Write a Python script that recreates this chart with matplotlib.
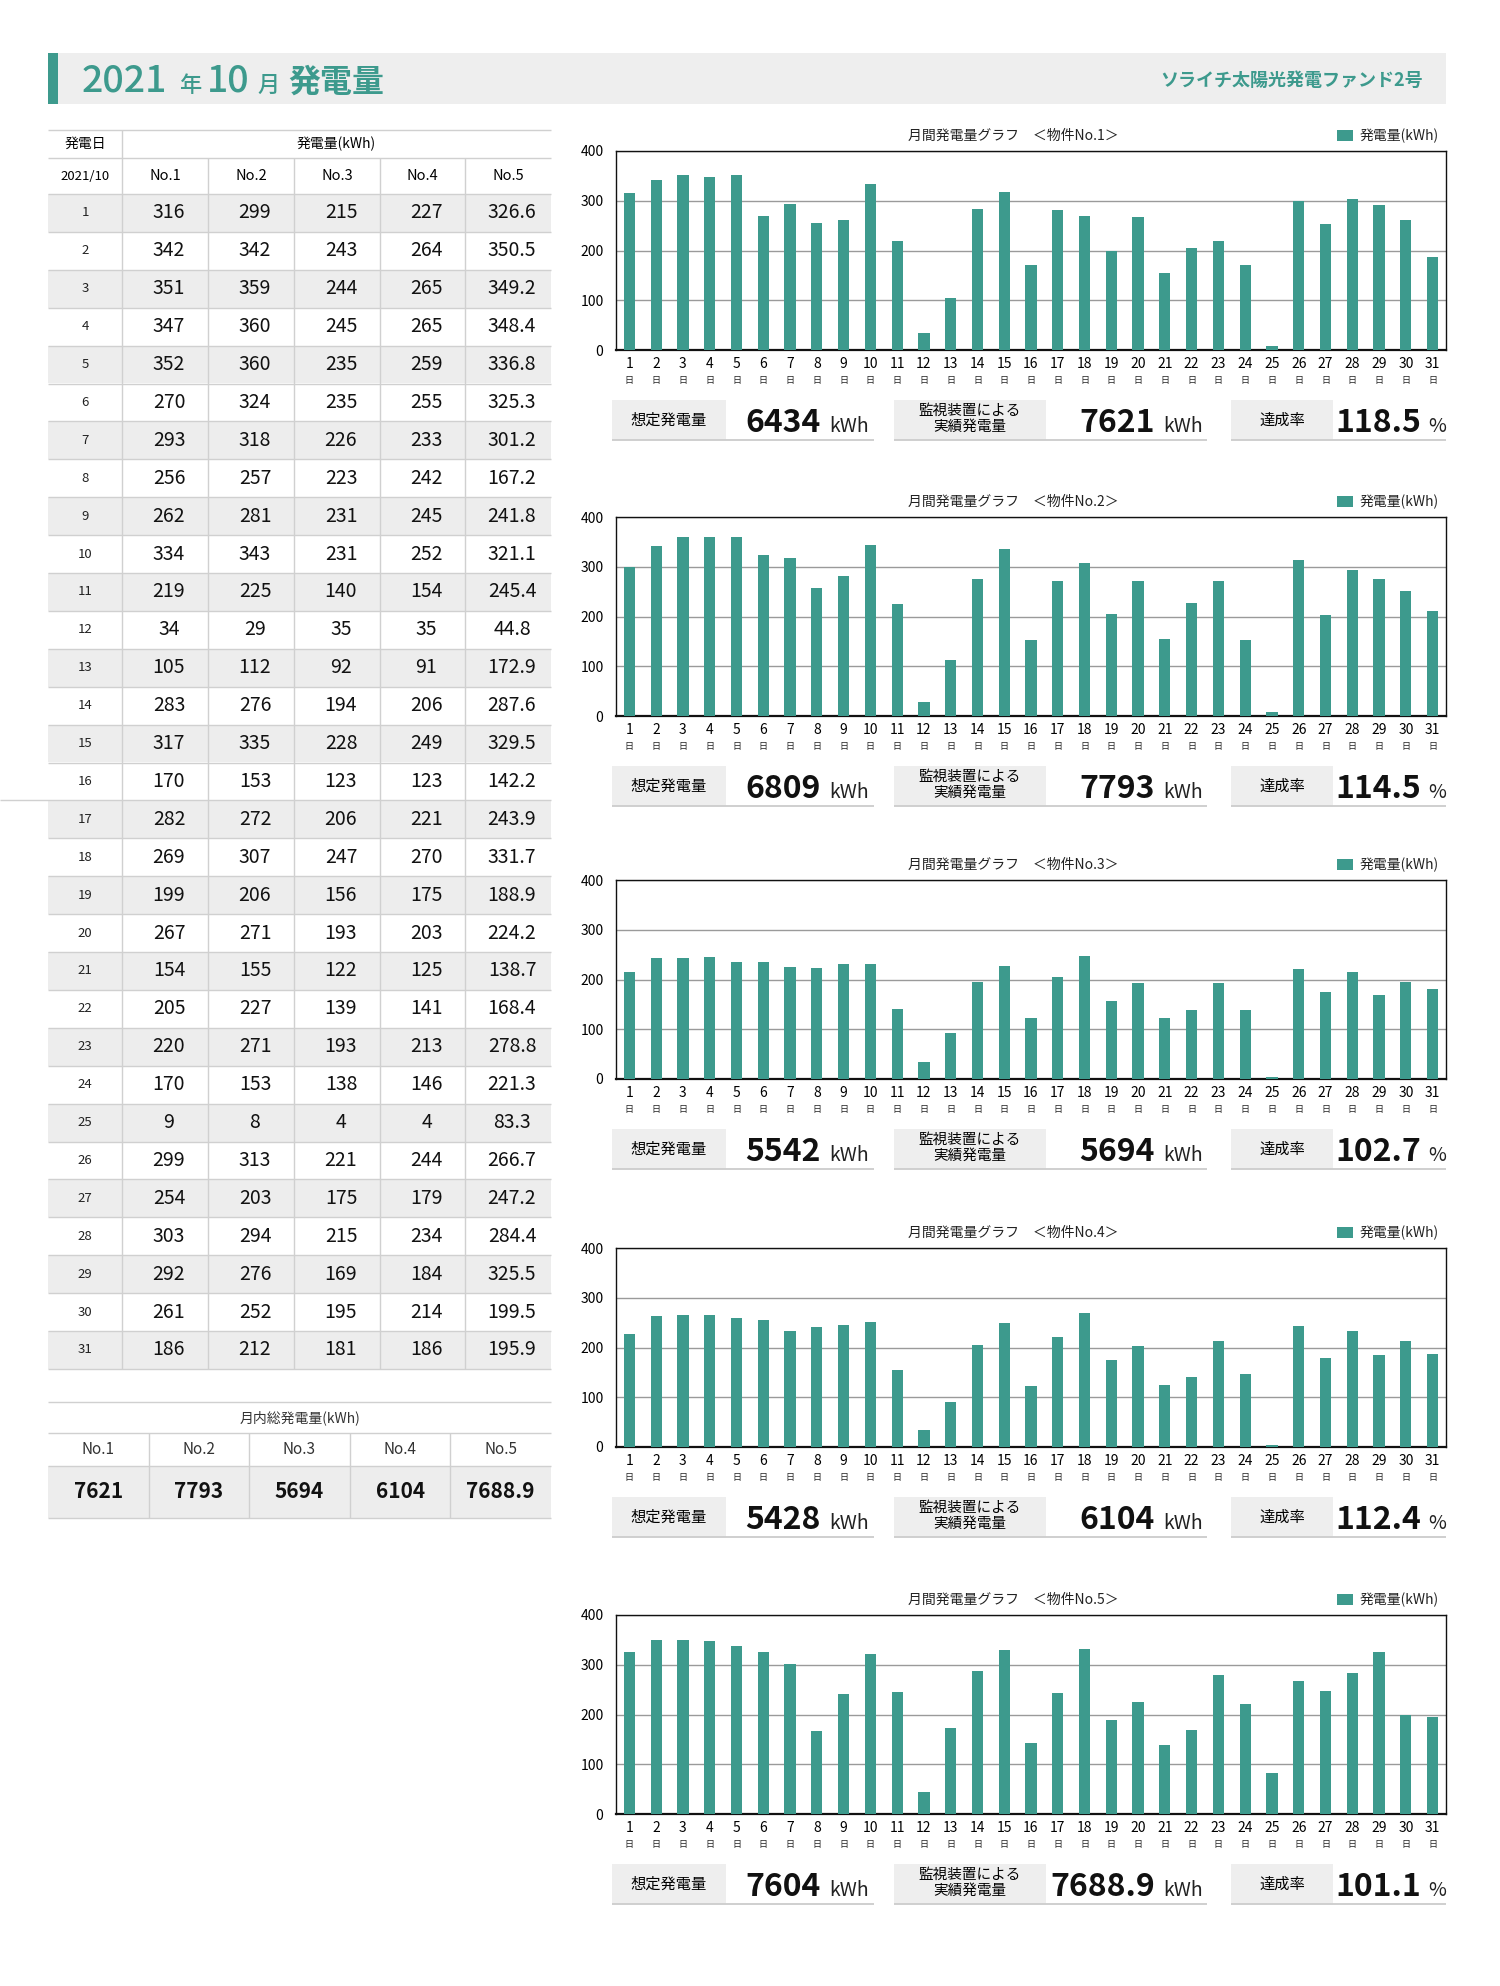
import numpy as np
import matplotlib
matplotlib.use('Agg')
import matplotlib.pyplot as plt
from matplotlib.patches import Rectangle
from matplotlib.transforms import blended_transform_factory

plt.rcParams['font.family'] = ['Noto Sans CJK JP', 'DejaVu Sans']

# colours
TEAL = '#3d9a8d'
STRIPE = '#ededed'
LINE = '#d0d0d0'

# data
days = list(range(1, 32))
no1 = [316, 342, 351, 347, 352, 270, 293, 256, 262, 334, 219, 34, 105, 283, 317, 170,
       282, 269, 199, 267, 154, 205, 220, 170, 9, 299, 254, 303, 292, 261, 186]
no2 = [299, 342, 359, 360, 360, 324, 318, 257, 281, 343, 225, 29, 112, 276, 335, 153,
       272, 307, 206, 271, 155, 227, 271, 153, 8, 313, 203, 294, 276, 252, 212]
no3 = [215, 243, 244, 245, 235, 235, 226, 223, 231, 231, 140, 35, 92, 194, 228, 123,
       206, 247, 156, 193, 122, 139, 193, 138, 4, 221, 175, 215, 169, 195, 181]
no4 = [227, 264, 265, 265, 259, 255, 233, 242, 245, 252, 154, 35, 91, 206, 249, 123,
       221, 270, 175, 203, 125, 141, 213, 146, 4, 244, 179, 234, 184, 214, 186]
no5 = [326.6, 350.5, 349.2, 348.4, 336.8, 325.3, 301.2, 167.2, 241.8, 321.1, 245.4, 44.8,
       172.9, 287.6, 329.5, 142.2, 243.9, 331.7, 188.9, 224.2, 138.7, 168.4, 278.8, 221.3,
       83.3, 266.7, 247.2, 284.4, 325.5, 199.5, 195.9]
series = [no1, no2, no3, no4, no5]
names = ['No.1', 'No.2', 'No.3', 'No.4', 'No.5']
expected = [6434, 6809, 5542, 5428, 7604]
actual = [7621, 7793, 5694, 6104, 7688.9]
rates = [118.5, 114.5, 102.7, 112.4, 101.1]
yticks = [0, 100, 200, 300, 400]


def fmt(v):
    return str(int(v)) if float(v).is_integer() else f'{v:.1f}'


W, H = 1500, 1986
fig = plt.figure(figsize=(15, 19.86), dpi=100)
bg = fig.add_axes([0, 0, 1, 1])
bg.set_xlim(0, W)
bg.set_ylim(H, 0)
bg.axis('off')


def px_axes(x0, y0, x1, y1):
    return fig.add_axes([x0 / W, 1 - y1 / H, (x1 - x0) / W, (y1 - y0) / H])


def hline(x0, x1, y, c=LINE, lw=1.0):
    bg.plot([x0, x1], [y, y], color=c, lw=lw, solid_capstyle='butt')


def vline(x, y0, y1, c=LINE, lw=1.0):
    bg.plot([x, x], [y0, y1], color=c, lw=lw, solid_capstyle='butt')


# header band
bg.add_patch(Rectangle((48, 53), 1398, 51, color='#eeeeee', lw=0))
bg.add_patch(Rectangle((48, 53), 10, 51, color=TEAL, lw=0))
base = 92
bg.text(82, base, '2021', color=TEAL, fontsize=27, va='baseline', weight='medium')
bg.text(179, base, '年', color=TEAL, fontsize=16, va='baseline', weight='medium')
bg.text(207, base, '10', color=TEAL, fontsize=27, va='baseline', weight='medium')
bg.text(257, base, '月', color=TEAL, fontsize=16, va='baseline', weight='medium')
bg.text(288, base, '発電量', color=TEAL, fontsize=23, va='baseline', weight='bold')
bg.text(1423, 80, 'ソライチ太陽光発電ファンド2号', color=TEAL, fontsize=13,
        ha='right', va='center', weight='bold')

# daily table
tx = [48, 122, 208, 294, 380, 465, 551]
row_h = 37.9
top0 = 194
for i, d in enumerate(days):
    y0 = top0 + i * row_h
    if i % 2 == 0:
        bg.add_patch(Rectangle((48, y0), 503, row_h, color=STRIPE, lw=0))
    xs = 0 if d == 17 else 48
    hline(xs, 551, y0)
    yc = y0 + row_h / 2
    bg.text(85, yc, str(d), fontsize=9.5, ha='center', va='center', color='#222222')
    for j in range(5):
        v = series[j][i]
        s = f'{v:.1f}' if j == 4 else str(v)
        bg.text((tx[j + 1] + tx[j + 2]) / 2 + 4, yc, s, fontsize=14, ha='center',
                va='center', color='#111111')
hline(48, 551, top0 + 31 * row_h)
hline(48, 551, 130)
hline(48, 551, 158)
vline(122, 130, top0 + 31 * row_h)
for c in range(2, 6):
    vline(tx[c], 158, top0 + 31 * row_h)
bg.text(85, 144, '発電日', fontsize=10, ha='center', va='center')
bg.text(336, 144, '発電量(kWh)', fontsize=10, ha='center', va='center')
bg.text(85, 176, '2021/10', fontsize=9.5, ha='center', va='center')
for j in range(5):
    bg.text((tx[j + 1] + tx[j + 2]) / 2, 176, names[j], fontsize=10.5,
            ha='center', va='center')

# monthly totals table
cx = np.linspace(48, 551, 6)
bg.add_patch(Rectangle((48, 1466), 503, 52, color=STRIPE, lw=0))
hline(48, 551, 1402)
hline(48, 551, 1433)
hline(48, 551, 1466)
hline(48, 551, 1518)
for c in cx[1:-1]:
    vline(c, 1433, 1518)
bg.text(300, 1418, '月内総発電量(kWh)', fontsize=10, ha='center', va='center',
        color='#333333')
for j in range(5):
    xm = (cx[j] + cx[j + 1]) / 2
    bg.text(xm, 1450, names[j], fontsize=11, ha='center', va='center', color='#333333')
    bg.text(xm, 1492, fmt(actual[j]), fontsize=15, ha='center', va='center',
            weight='bold', color='#111111')

# charts
chart_tops = [151, 517, 880, 1248, 1615]
for k in range(5):
    t = chart_tops[k]
    b = t + 199
    ax = px_axes(616, t, 1446, b)
    ax.bar(days, series[k], width=0.42, color=TEAL, zorder=3)
    ax.set_xlim(0.5, 31.5)
    ax.set_ylim(0, 400)
    ax.set_yticks(yticks)
    ax.set_yticklabels([str(v) for v in yticks], fontsize=10)
    ax.yaxis.grid(True, color='#9a9a9a', lw=1.0, zorder=0)
    ax.set_xticks(days)
    ax.set_xticklabels([str(d) for d in days], fontsize=10)
    ax.tick_params(axis='y', length=0, pad=9)
    ax.tick_params(axis='x', length=0, pad=5)
    for sp in ax.spines.values():
        sp.set_color('#111111')
        sp.set_linewidth(1.0)
    ax.spines['bottom'].set_linewidth(1.6)
    trans = blended_transform_factory(ax.transData, ax.transAxes)
    for d in days:
        ax.text(d, -0.152, '日', transform=trans, fontsize=6.5, ha='center',
                va='center', color='#222222')

    # title and legend
    bg.text(1013, t - 15, f'月間発電量グラフ　＜物件{names[k]}＞', fontsize=10,
            ha='center', va='center', color='#222222')
    bg.add_patch(Rectangle((1337, t - 21), 16, 11, color=TEAL, lw=0))
    bg.text(1360, t - 15, '発電量(kWh)', fontsize=10, ha='left', va='center',
            color='#222222')

    # summary row
    y0, y1 = b + 50, b + 90
    bg.add_patch(Rectangle((612, y0), 114, 40, color='#eeeeee', lw=0))
    bg.add_patch(Rectangle((894, y0), 152, 40, color='#eeeeee', lw=0))
    bg.add_patch(Rectangle((1231, y0), 102, 40, color='#eeeeee', lw=0))
    hline(612, 874, y1, c='#cccccc', lw=1.3)
    hline(894, 1207, y1, c='#cccccc', lw=1.3)
    hline(1231, 1446, y1, c='#cccccc', lw=1.3)
    bg.text(669, (y0 + y1) / 2, '想定発電量', fontsize=11, ha='center', va='center')
    bg.text(970, b + 61, '監視装置による', fontsize=10.5, ha='center', va='center')
    bg.text(970, b + 77, '実績発電量', fontsize=10.5, ha='center', va='center')
    bg.text(1282, (y0 + y1) / 2, '達成率', fontsize=11, ha='center', va='center')
    nb = b + 82
    bg.text(821, nb, fmt(expected[k]), fontsize=23, weight='bold', ha='right',
            va='baseline', color='#111111')
    bg.text(829, nb, 'kWh', fontsize=14, ha='left', va='baseline', color='#222222')
    bg.text(1155, nb, fmt(actual[k]), fontsize=23, weight='bold', ha='right',
            va='baseline', color='#111111')
    bg.text(1163, nb, 'kWh', fontsize=14, ha='left', va='baseline', color='#222222')
    bg.text(1421, nb, f'{rates[k]:.1f}', fontsize=23, weight='bold', ha='right',
            va='baseline', color='#111111')
    bg.text(1428, nb, '%', fontsize=14, ha='left', va='baseline', color='#222222')

fig.savefig('out.png', dpi=100)
